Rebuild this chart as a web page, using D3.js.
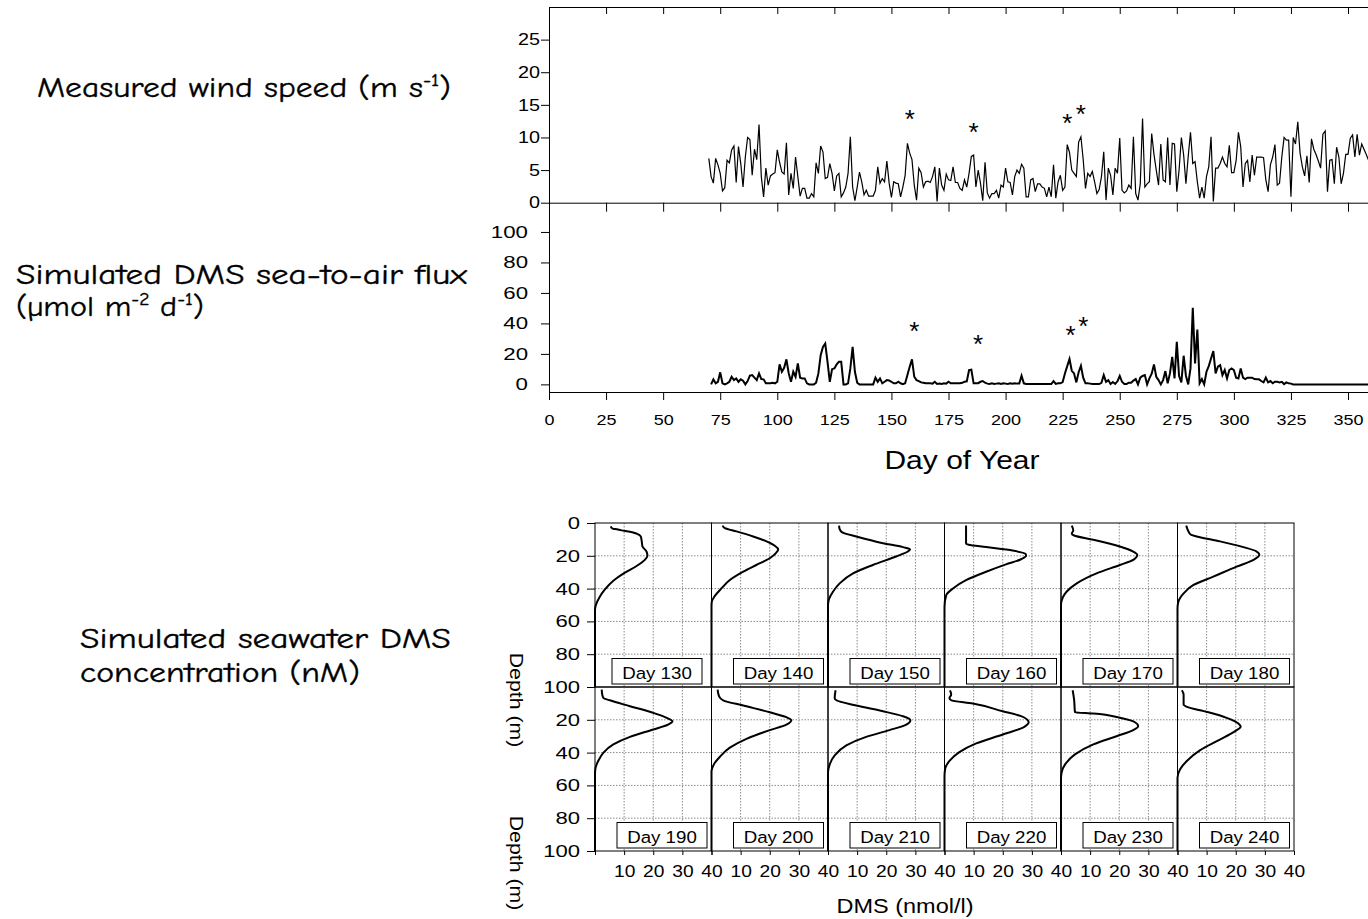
<!DOCTYPE html>
<html>
<head>
<meta charset="utf-8">
<script src="https://cdn.jsdelivr.net/npm/d3@7"></script>
<style>
  body { margin: 0; background: #fff; }
  svg { display: block; }
</style>
</head>
<body>
<svg id="chart" width="1368" height="919"></svg>
<script>
// ---------------- data ----------------
// Daily measured wind speed (m/s), starting at day 70
const windStartDay = 70;
const windSpeed = [
  6.8, 4.0, 3.0, 6.8, 5.8, 4.5, 1.8, 2.3, 6.5, 6.1, 8.1, 8.7, 3.1, 8.6, 6.0, 2.4, 7.0, 10.0, 9.7, 4.2,
  8.2, 6.6, 12.0, 4.0, 0.9, 5.3, 2.7, 4.1, 4.4, 4.6, 8.1, 6.2, 4.7, 4.4, 9.2, 1.2, 4.5, 2.2, 7.0, 4.0,
  1.0, 2.2, 2.2, 0.7, 0.7, 1.4, 0.9, 6.1, 4.5, 8.7, 7.8, 3.7, 3.9, 6.0, 4.5, 1.8, 4.1, 4.5, 0.9, 1.5,
  2.4, 4.5, 10.1, 2.4, 0.3, 2.4, 4.7, 3.2, 1.2, 1.9, 1.0, 1.0, 1.0, 1.9, 5.5, 3.0, 3.7, 3.2, 6.4, 3.0,
  0.8, 3.2, 3.0, 2.9, 0.9, 2.4, 4.2, 9.1, 7.6, 6.6, 2.7, 0.4, 5.3, 4.6, 2.4, 3.2, 3.3, 3.1, 4.0, 5.5,
  0.2, 5.3, 2.7, 1.9, 4.4, 3.5, 3.4, 5.5, 3.1, 3.1, 2.2, 1.9, 3.5, 2.4, 4.5, 7.1, 7.3, 2.4, 5.0, 3.0,
  0.3, 6.2, 1.5, 0.7, 1.4, 1.4, 1.9, 0.7, 2.7, 2.4, 5.3, 3.2, 3.1, 1.2, 4.0, 5.0, 4.5, 5.9, 5.3, 0.9,
  0.9, 3.5, 3.7, 1.7, 2.9, 2.9, 2.4, 2.2, 0.9, 2.4, 0.9, 5.8, 0.7, 3.2, 4.2, 1.9, 2.4, 8.9, 7.7, 5.0,
  4.5, 4.0, 9.3, 10.1, 6.6, 2.2, 4.5, 4.0, 4.8, 3.2, 1.4, 2.0, 4.0, 7.8, 0.4, 5.3, 4.2, 1.2, 5.3, 4.5,
  9.9, 1.9, 1.5, 1.8, 2.7, 2.2, 10.1, 1.4, 0.4, 2.9, 12.9, 2.4, 2.9, 3.2, 10.6, 7.4, 5.0, 2.7, 9.0, 3.5,
  3.2, 10.0, 2.7, 9.1, 9.0, 1.7, 5.0, 10.0, 7.3, 2.9, 7.1, 10.8, 6.0, 6.3, 3.2, 0.7, 2.4, 0.7, 4.0, 5.5,
  10.1, 0.2, 5.3, 5.3, 6.0, 7.0, 6.0, 5.5, 8.8, 4.6, 4.6, 6.5, 10.8, 8.6, 2.4, 6.0, 6.5, 3.2, 7.3, 4.2,
  7.0, 7.0, 7.0, 6.9, 3.5, 1.7, 5.8, 7.0, 8.9, 2.7, 3.0, 7.0, 10.0, 9.6, 9.6, 0.9, 10.0, 9.0, 12.4, 7.6,
  5.5, 4.1, 7.2, 3.1, 9.8, 8.2, 7.4, 6.4, 5.3, 10.5, 11.0, 1.7, 6.5, 6.6, 2.9, 8.5, 7.0, 2.9, 4.5, 7.4,
  7.4, 9.9, 10.4, 7.0, 10.5, 7.3, 9.0, 8.2, 7.4, 6.5, 7.0
];

// Daily simulated DMS sea-to-air flux (umol m-2 d-1), starting at day 71
const fluxStartDay = 71;
const dmsFlux = [
  0, 3.3, 0.7, 1.7, 7.9, 0.7, 0, 0.7, 1.7, 5.0, 2.8, 3.9, 1.7, 3.3, 2.4, 0, 2.2, 5.7, 6.1, 4.4,
  2.8, 7.2, 3.5, 3.3, 0.7, 0.7, 0.7, 1.1, 0.7, 1.7, 13.1, 8.3, 10.9, 16.4, 7.2, 1.7, 8.3, 5.0, 13.7, 4.4,
  3.9, 3.9, 0.7, 0, 0, 0, 1.1, 7.2, 19.2, 24.6, 26.8, 14.8, 1.7, 10.0, 10.5, 13.1, 14.8, 14.8, 0, 0,
  0.7, 10.5, 24.6, 8.3, 1.1, 0, 0, 0, 0, 0, 0, 0, 4.4, 1.7, 3.9, 0.7, 1.7, 2.8, 2.6, 1.7,
  0.7, 0.7, 1.7, 0.7, 0.2, 0.7, 6.1, 11.6, 16.4, 5.0, 2.8, 2.2, 1.3, 1.1, 0.7, 0.7, 0.7, 0.5, 1.7, 0.3,
  0.5, 0.3, 0.7, 0.5, 1.7, 0.7, 0.7, 0.7, 0.7, 0.7, 1.0, 1.7, 2.0, 9.3, 9.6, 0.7, 0.7, 0.8, 1.7, 2.2,
  1.1, 0.5, 0.3, 0.7, 0.3, 0.5, 0.7, 0.3, 0.7, 0.5, 0.3, 0.7, 0.4, 0.7, 0.5, 0.5, 5.7, 0.7, 0.3, 0.2,
  0.2, 0.2, 0.2, 0.2, 0.2, 0.2, 0.2, 0.2, 0.2, 0.2, 2.2, 0.3, 0.7, 0.7, 1.5, 7.2, 12.0, 16.6, 8.9, 7.2,
  1.3, 8.0, 12.2, 4.4, 0.7, 0.7, 0.5, 0.3, 0.2, 0.2, 0.2, 1.0, 6.1, 1.7, 2.8, 0.3, 1.5, 0.3, 2.0, 5.5,
  1.7, 0.3, 0.3, 1.1, 1.1, 2.5, 3.5, 0, 4.4, 5.5, 6.1, 0, 3.9, 7.0, 13.1, 5.0, 2.8, 0, 2.8, 8.7,
  0.7, 7.2, 18.1, 3.9, 27.9, 5.5, 1.3, 18.8, 5.7, 0, 10.5, 50.2, 13.7, 36.0, 0.7, 3.5, 0, 8.3, 12.0, 17.0,
  21.8, 7.2, 11.6, 12.6, 6.1, 9.4, 3.9, 9.4, 10.5, 9.4, 4.4, 3.9, 10.5, 4.4, 3.5, 4.4, 4.4, 4.4, 3.5, 3.3,
  3.3, 2.2, 1.3, 4.4, 1.3, 2.2, 0.7, 1.7, 1.7, 1.3, 1.7, 0.2, 1.3, 0.7, 0.5, 0, 0, 0, 0, 0,
  0, 0, 0, 0, 0, 0, 0, 0, 0, 0, 0, 0, 0, 0, 0, 0, 0, 0, 0, 0,
  0, 0, 0, 0, 0, 0, 0, 0, 0, 0
];

// Events flagged with an asterisk (day, value at which the star sits)
const windMarkDays = [158, 186, 227, 233];
const windMarkValues = [13.7, 11.7, 13.2, 14.5];
const fluxMarkDays = [160, 188, 228.5, 234];
const fluxMarkValues = [39.3, 30.6, 36.7, 42];

// Axis ticks
const dayTicks = [0, 25, 50, 75, 100, 125, 150, 175, 200, 225, 250, 275, 300, 325, 350];
const windTicks = [0, 5, 10, 15, 20, 25];
const fluxTicks = [0, 20, 40, 60, 80, 100];
const depthTicks = [0, 20, 40, 60, 80, 100];
const dmsTicks = [10, 20, 30, 40];

// Simulated seawater DMS profiles (nmol/l vs depth in m)
const profileDays = [130, 140, 150, 160, 170, 180, 190, 200, 210, 220, 230, 240];
const profileDms = [
  [5.4, 6.1, 6.9, 9.1, 12, 14.3, 15.7, 16, 16.3, 17.7, 18, 17.1, 14.3, 10.3, 6.3, 3.4, 1.5, 0.3, 0, 0],
  [3.8, 4.6, 8.6, 14.3, 18.9, 22.3, 22.9, 22.1, 20, 15.4, 10.9, 6.3, 3.4, 1.1, 0.1, 0, 0],
  [3.8, 4, 4.9, 9.7, 18.9, 25.7, 28.2, 27.4, 23.4, 15.4, 8.6, 4, 1.7, 0.3, 0, 0],
  [7.4, 7.4, 8.3, 14.3, 23.4, 27.8, 28, 26.3, 21.1, 14.3, 7.4, 2.9, 0.6, 0, 0],
  [3.7, 4.2, 3.7, 4.5, 11.1, 20.2, 24.8, 26.2, 24.8, 20.2, 12.2, 5.4, 1.9, 0.6, 0, 0],
  [3, 3.5, 4.6, 6.6, 14.6, 22.6, 27.2, 28.1, 26.1, 20.3, 12.3, 5.5, 2.1, 0.3, 0, 0],
  [2.3, 2.5, 2.9, 5.1, 12, 20, 24.6, 26.6, 25.1, 20, 12, 6.3, 2.9, 1.1, 0.2, 0, 0],
  [2.1, 2.6, 4, 10.9, 20, 25.7, 27.4, 25.7, 20, 12, 6.3, 2.9, 0.8, 0, 0],
  [2.6, 2.3, 2.9, 9.7, 18.9, 25.7, 28.3, 26.9, 21.1, 13.1, 6.3, 2.3, 0.6, 0, 0],
  [1.9, 2.3, 1.7, 2.3, 9.7, 20, 26.3, 28.9, 27.4, 20, 10.9, 5.1, 1.7, 0.3, 0, 0],
  [4, 4.5, 4.8, 11.1, 20.2, 25.4, 26.5, 24.8, 19.1, 11.1, 4.8, 1.4, 0.2, 0, 0],
  [1.5, 2.1, 2.1, 3.2, 10.1, 16.9, 20.9, 21.7, 19.8, 13.5, 7.8, 3.2, 0.9, 0, 0]
];
const profileDepth = [
  [2, 3.5, 3.7, 4.5, 5.3, 6.5, 8.2, 10.6, 14.3, 17.4, 20, 22.5, 26.2, 30.3, 35.2, 40.5, 45.4, 50, 53, 100],
  [1.6, 3.1, 5.1, 8.2, 11.2, 14.7, 16, 18.4, 21.5, 25.6, 29.7, 34.8, 39.9, 44.6, 48, 51, 100],
  [1.6, 3.7, 5.7, 8.2, 12.3, 14.7, 16, 17.4, 20.4, 25.6, 30.7, 36.8, 41.9, 46.6, 50, 100],
  [1.6, 12.7, 13.3, 14.7, 16.8, 18.8, 20, 22.1, 25.2, 29.7, 34.8, 39.9, 44, 51, 100],
  [1.6, 4.5, 6.5, 7.6, 10.2, 14.3, 17.4, 19.4, 22.5, 25.6, 30.7, 36.8, 41.9, 45.4, 50, 100],
  [1.6, 4.1, 7.2, 8.2, 11.2, 14.7, 17.4, 19.4, 22.5, 26.6, 32.7, 37.8, 42.9, 48, 52, 100],
  [1.6, 4.7, 6.7, 8.1, 11.7, 15.8, 18.8, 20.9, 22.9, 25.9, 30.4, 35, 40, 45.1, 49.2, 53, 100],
  [1.6, 5.7, 8.1, 11.3, 15.4, 18.4, 20.2, 22.9, 26.3, 31.6, 37, 42.5, 47.2, 51.2, 100],
  [2, 6.7, 8.1, 11.3, 14.8, 17.8, 20.2, 22.9, 26.3, 30.4, 35.6, 41.7, 47.2, 52.2, 100],
  [2, 4.7, 6.7, 8.1, 10.1, 14.8, 17.8, 21.5, 24.3, 29, 34.4, 39.7, 45.1, 49.2, 54.3, 100],
  [2, 7.7, 15.4, 16.2, 18.8, 21.5, 23.9, 26.3, 30, 35, 41.1, 47.2, 52.2, 56, 100],
  [2, 4.7, 10.7, 12.1, 15.2, 18.8, 22.3, 24.3, 26.9, 33, 38.5, 45.1, 50.2, 55.3, 100]
];

// ---------------- drawing ----------------
const svg = d3.select("#chart");
const AX_FONT = "'Liberation Sans', Arial, Helvetica, sans-serif";
const NOTE_FONT = "'Comic Sans MS', 'Comic Neue', 'Noto Sans', sans-serif";

// Stretch a text element horizontally while keeping its anchor point
function widen(sel, k) {
  sel.each(function () {
    const t = d3.select(this);
    const xa = t.attr("x");
    if (xa !== null) t.attr("x", +xa / k);
    t.attr("transform", `scale(${k},1)`);
  });
}

function styleAxis(g, size, k) {
  g.attr("font-family", null).attr("font-size", null);
  g.selectAll("line, path").attr("stroke", "#000");
  g.selectAll("text")
    .attr("font-family", AX_FONT)
    .attr("font-size", size)
    .attr("fill", "#000")
    .call(widen, k);
}

function label(parent, x, y, str, opts = {}) {
  const k = opts.stretch || 1;
  const rot = opts.rotate ? ` rotate(${opts.rotate})` : "";
  return parent.append("text")
    .attr("transform", `translate(${x},${y})${rot} scale(${k},1)`)
    .attr("font-family", opts.family || AX_FONT)
    .attr("font-size", opts.size || 14)
    .attr("text-anchor", opts.anchor || "start")
    .attr("fill", "#000")
    .text(str);
}

// ---- time-series panels ----
const x = d3.scaleLinear().domain([0, 365]).range([549, 549 + 365 * 2.2829]);
const yWind = d3.scaleLinear().domain([0, 30]).range([202.7, 7]);
const yFlux = d3.scaleLinear().domain([-5, 119]).range([392, 203]);

const windData = windSpeed.map((v, i) => ({ day: windStartDay + i, v }));
const fluxData = dmsFlux.map((v, i) => ({ day: fluxStartDay + i, v }));

// frame lines with inward ticks
[[7, 7], [yWind(0), 9]].forEach(([yy, len]) => {
  svg.append("g")
    .attr("transform", `translate(0,${yy})`)
    .call(d3.axisBottom(x).tickValues(dayTicks).tickSize(len).tickSizeOuter(0).tickFormat(""))
    .call(styleAxis, 14, 1);
});

// bottom day axis
svg.append("g")
  .attr("transform", `translate(0,392)`)
  .call(d3.axisBottom(x).tickValues(dayTicks).tickSize(8).tickSizeOuter(0).tickPadding(14))
  .call(styleAxis, 15, 1.2);

// wind y axis
svg.append("g")
  .attr("transform", "translate(549,0)")
  .call(d3.axisLeft(yWind).tickValues(windTicks).tickSize(8).tickSizeOuter(0).tickPadding(1))
  .call(styleAxis, 16.5, 1.2);

// flux y axis
svg.append("g")
  .attr("transform", "translate(549,0)")
  .call(d3.axisLeft(yFlux).tickValues(fluxTicks).tickSize(8).tickSizeOuter(0).tickPadding(13))
  .call(styleAxis, 16.5, 1.35);

svg.append("path")
  .datum(windData)
  .attr("fill", "none")
  .attr("stroke", "#000")
  .attr("stroke-width", 1.2)
  .attr("d", d3.line().x(d => x(d.day)).y(d => yWind(d.v)));

svg.append("path")
  .datum(fluxData)
  .attr("fill", "none")
  .attr("stroke", "#000")
  .attr("stroke-width", 2)
  .attr("d", d3.line().x(d => x(d.day)).y(d => yFlux(d.v)));

// asterisks
function stars(days, vals, yScale) {
  svg.append("g").selectAll("text")
    .data(days.map((d, i) => ({ d, v: vals[i] })))
    .join("text")
    .attr("x", p => x(p.d))
    .attr("y", p => yScale(p.v))
    .attr("dy", "0.58em")
    .attr("text-anchor", "middle")
    .attr("font-family", AX_FONT)
    .attr("font-size", 26)
    .attr("fill", "#000")
    .text("*");
}
stars(windMarkDays, windMarkValues, yWind);
stars(fluxMarkDays, fluxMarkValues, yFlux);

label(svg, 962, 469.3, "Day of Year", { size: 25, anchor: "middle", stretch: 1.2 });

// ---- DMS profile small multiples ----
const smLeft = 595, smW = 116.5, rowTops = [523, 687], rowH = 164;
const xDms = d3.scaleLinear().domain([0, 40]);
const yDepth = d3.scaleLinear().domain([0, 100]);

profileDays.forEach((day, i) => {
  const col = i % 6, row = Math.floor(i / 6);
  const x0 = smLeft + col * smW, y0 = rowTops[row];
  const xs = xDms.copy().range([x0, x0 + smW]);
  const ys = yDepth.copy().range([y0, y0 + rowH]);
  const g = svg.append("g");

  // dotted grid
  g.selectAll("line.gx").data([10, 20, 30]).join("line")
    .attr("x1", d => xs(d)).attr("x2", d => xs(d))
    .attr("y1", y0).attr("y2", y0 + rowH)
    .attr("stroke", "#8a8a8a").attr("stroke-width", 1).attr("stroke-dasharray", "1.5,1.5");
  g.selectAll("line.gy").data([20, 40, 60, 80]).join("line")
    .attr("x1", x0).attr("x2", x0 + smW)
    .attr("y1", d => ys(d)).attr("y2", d => ys(d))
    .attr("stroke", "#8a8a8a").attr("stroke-width", 1).attr("stroke-dasharray", "1.5,1.5");

  // frame
  g.append("rect")
    .attr("x", x0).attr("y", y0).attr("width", smW).attr("height", rowH)
    .attr("fill", "none").attr("stroke", "#000").attr("stroke-width", 1);

  // profile
  const pts = profileDms[i].map((v, j) => [v, profileDepth[i][j]]);
  g.append("path")
    .datum(pts)
    .attr("fill", "none")
    .attr("stroke", "#000")
    .attr("stroke-width", 2)
    .attr("d", d3.line().x(p => xs(p[0])).y(p => ys(p[1])).curve(d3.curveMonotoneY));

  // day label box
  const bx = x0 + (i === 0 ? 17 : 22), by = y0 + 135.5;
  g.append("rect")
    .attr("x", bx).attr("y", by).attr("width", 90).attr("height", 25.5)
    .attr("fill", "#fff").attr("stroke", "#000").attr("stroke-width", 1);
  label(g, bx + 45, by + 20.5, `Day ${day}`, { size: 17, anchor: "middle", stretch: 1.1 });

  // bottom axis on the lower row
  if (row === 1) {
    g.append("g")
      .attr("transform", `translate(0,${y0 + rowH})`)
      .call(d3.axisBottom(xs).tickValues([0, ...dmsTicks]).tickSize(4).tickSizeOuter(0).tickPadding(11)
        .tickFormat(d => d === 0 ? "" : d))
      .call(styleAxis, 16, 1.2)
      .select(".domain").remove();
  }
  // left axis on the first column
  if (col === 0) {
    g.append("g")
      .attr("transform", `translate(${x0},0)`)
      .call(d3.axisLeft(ys).tickValues(row === 0 ? depthTicks : depthTicks.filter(d => d > 0))
        .tickSize(8).tickSizeOuter(0).tickPadding(7))
      .call(styleAxis, 17, 1.3)
      .select(".domain").remove();
  }
});

label(svg, 510, 700, "Depth (m)", { size: 19, anchor: "middle", stretch: 1.12, rotate: 90 });
label(svg, 510, 863, "Depth (m)", { size: 19, anchor: "middle", stretch: 1.12, rotate: 90 });
label(svg, 905, 913, "DMS (nmol/l)", { size: 21, anchor: "middle", stretch: 1.12 });

// ---- panel descriptions ----
// Each note is stretched to its measured line width; {sup} parts are raised exponents
function note(xx, yy, width, parts) {
  const t = svg.append("text")
    .attr("x", 0).attr("y", 0)
    .attr("font-family", NOTE_FONT)
    .attr("font-size", 28)
    .attr("fill", "#000")
    .attr("stroke", "#000")
    .attr("stroke-width", 0.35);
  let raised = false;
  parts.forEach(p => {
    if (typeof p === "string") {
      t.append("tspan").attr("dy", raised ? 11 : 0).text(p);
      raised = false;
    } else {
      t.append("tspan").attr("font-size", 17).attr("dy", raised ? 0 : -11).text(p.sup);
      raised = true;
    }
  });
  const w = t.node().getBBox().width || width;
  t.attr("transform", `translate(${xx},${yy}) scale(${width / w},1)`);
  return t;
}
note(37, 97, 414, ["Measured wind speed (m s", { sup: "-1" }, ")"]);
note(16, 284, 452, ["Simulated DMS sea-to-air flux"]);
note(16, 316, 188, ["(\u00B5mol m", { sup: "-2" }, " d", { sup: "-1" }, ")"]);
note(80, 648, 371, ["Simulated seawater DMS"]);
note(80, 682, 280, ["concentration (nM)"]);
</script>
</body>
</html>
